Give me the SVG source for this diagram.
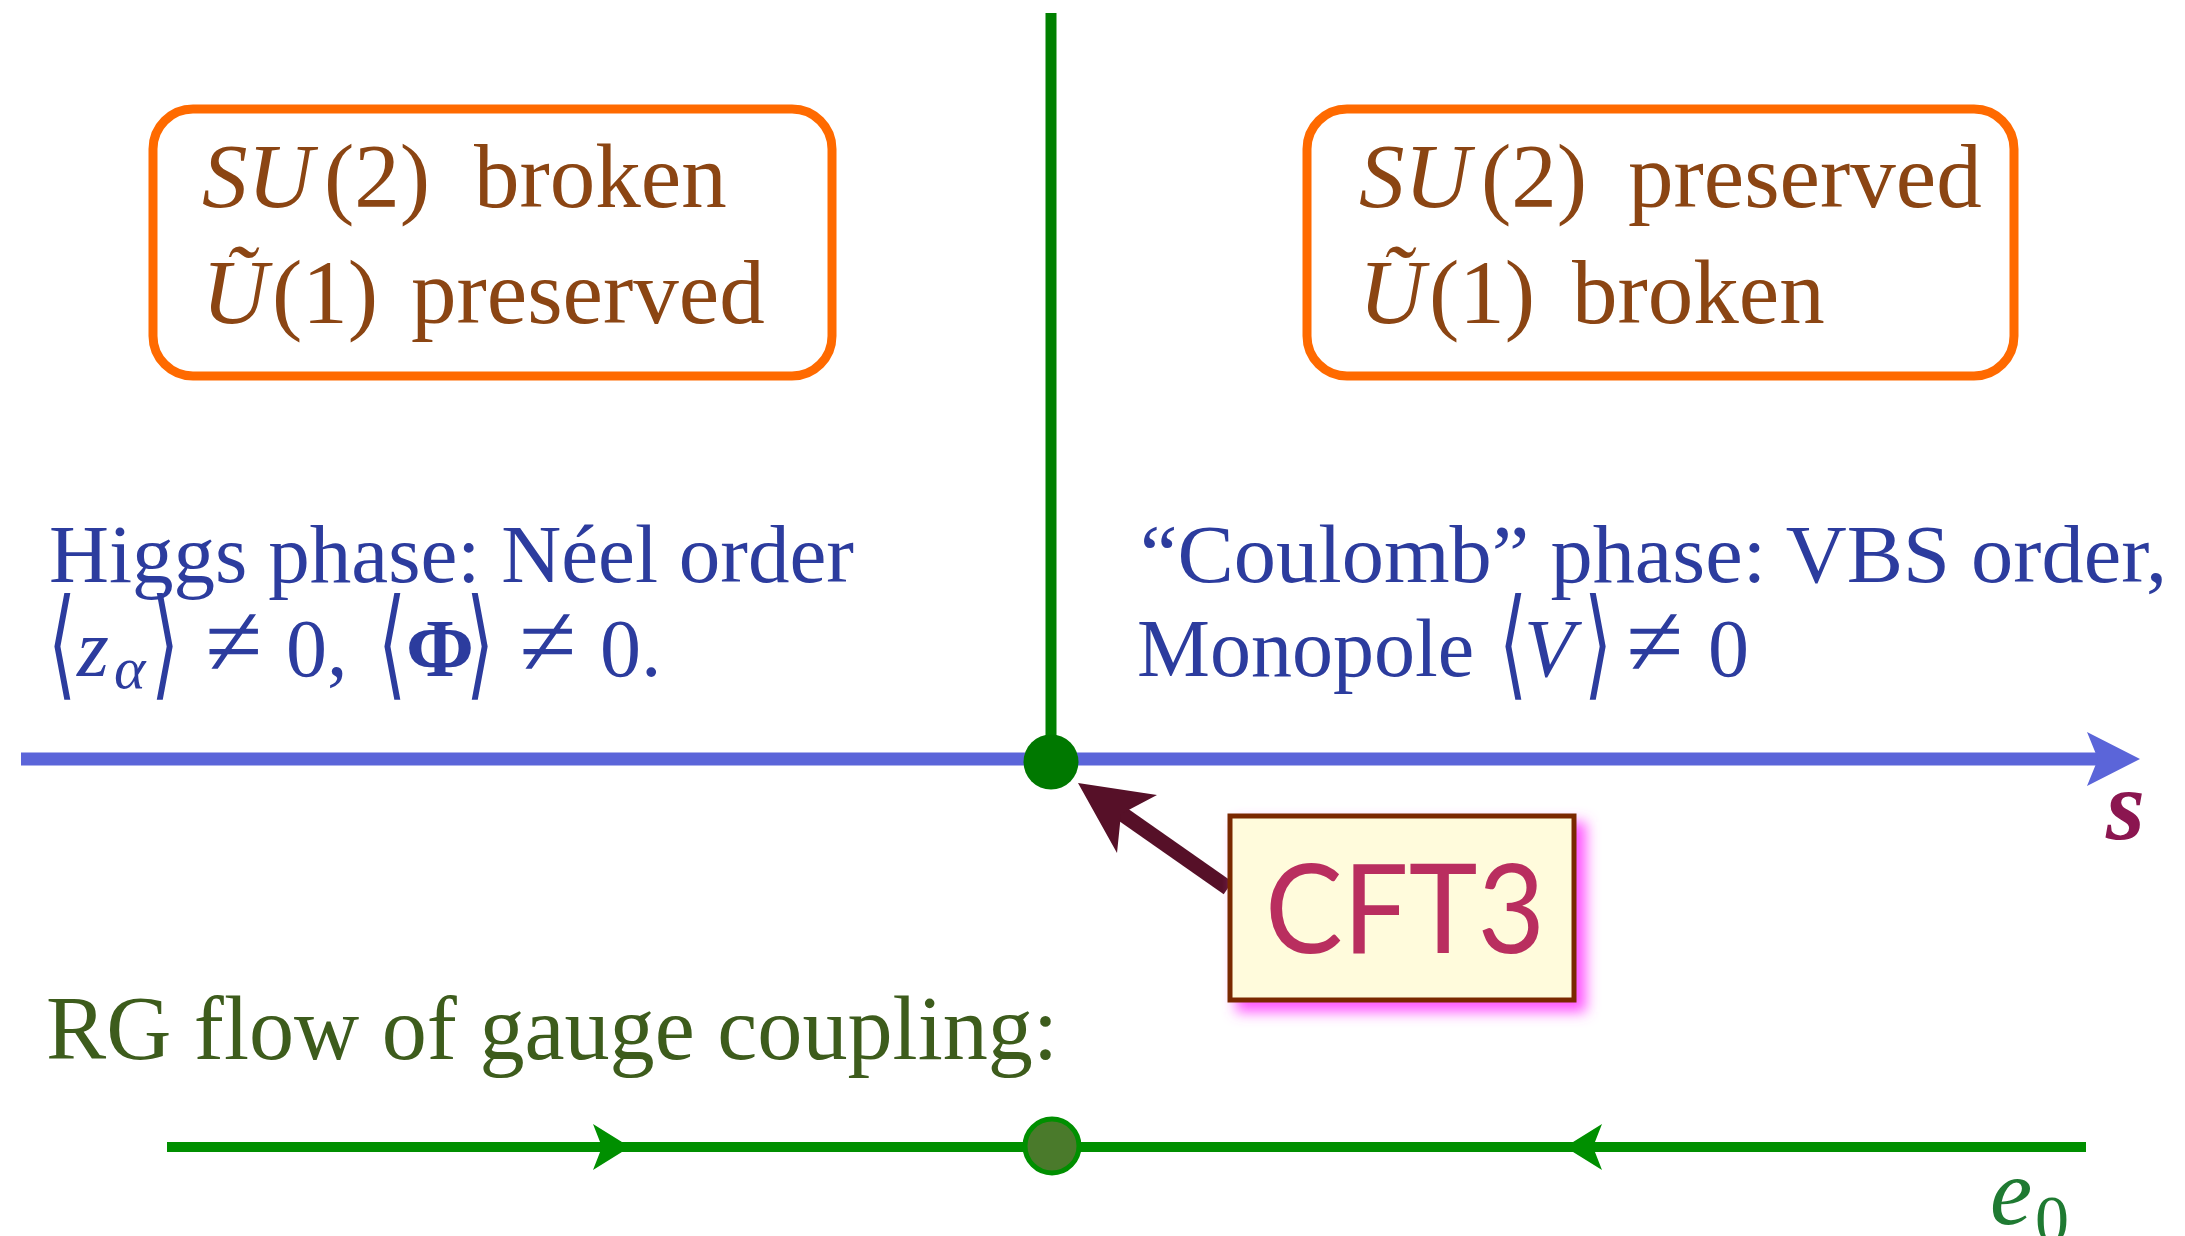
<svg xmlns="http://www.w3.org/2000/svg" width="2185" height="1236" viewBox="0 0 2185 1236">
<style>
.serif{font-family:"Liberation Serif","DejaVu Serif",serif}
.it{font-style:italic}
.box{fill:#ffffff;stroke:#ff6a00;stroke-width:9}
.boxtxt{fill:#8b4513;font-size:91px}
.blue{fill:#2c3c9e;font-size:82px}
.brk{font-family:"DejaVu Sans","DejaVu Serif",sans-serif;font-size:120px;fill:#2c3c9e}
.neq{font-size:104px}
</style>
<defs>
<filter id="glow" x="-20%" y="-20%" width="140%" height="140%">
<feGaussianBlur stdDeviation="7"/>
</filter>
</defs>
<rect width="2185" height="1236" fill="#ffffff"/>

<g id="connectors">
<line x1="1051" y1="13" x2="1051" y2="750" stroke="#008000" stroke-width="11"/>
<line x1="21" y1="759" x2="2098" y2="759" stroke="#5b65d9" stroke-width="13"/>
<polygon points="2140,759 2087,732 2098,759 2087,786" fill="#5b65d9"/>
<line x1="167" y1="1147" x2="2086" y2="1147" stroke="#008f00" stroke-width="10"/>
<polygon points="630,1147 593,1124 602,1147 593,1170" fill="#008f00"/>
<polygon points="1565,1147 1602,1124 1593,1147 1602,1170" fill="#008f00"/>
<line x1="1228" y1="888" x2="1118" y2="811" stroke="#561028" stroke-width="15"/>
<polygon points="1078,783 1157,795 1121,814 1117,853" fill="#561028"/>
</g>

<g id="box-left">
<rect class="box" x="153" y="109" width="679" height="267" rx="40"/>
<text class="serif boxtxt" y="207"><tspan class="it" x="202">SU</tspan><tspan x="324">(2)</tspan><tspan x="474">broken</tspan></text>
<text class="serif boxtxt" y="323"><tspan class="it" x="202">Ũ</tspan><tspan x="272">(1)</tspan><tspan x="411">preserved</tspan></text>
</g>

<g id="box-right">
<rect class="box" x="1307" y="109" width="707" height="267" rx="40"/>
<text class="serif boxtxt" y="207"><tspan class="it" x="1359">SU</tspan><tspan x="1481">(2)</tspan><tspan x="1628">preserved</tspan></text>
<text class="serif boxtxt" y="323"><tspan class="it" x="1359">Ũ</tspan><tspan x="1429">(1)</tspan><tspan x="1572">broken</tspan></text>
</g>

<g id="higgs-phase">
<text class="serif blue" x="49" y="582" textLength="805" lengthAdjust="spacingAndGlyphs">Higgs phase: Néel order</text>
<text class="brk" transform="translate(48,684) scale(0.6,1)">⟨</text>
<text class="serif blue" y="676"><tspan class="it" x="77">z</tspan><tspan class="it" x="114" y="688" font-size="60">α</tspan></text>
<text class="brk" transform="translate(151,684) scale(0.6,1)">⟩</text>
<text class="serif blue" y="676"><tspan class="neq" x="205">≠</tspan><tspan x="286">0,</tspan></text>
<text class="brk" transform="translate(378,684) scale(0.6,1)">⟨</text>
<text class="serif blue" x="406" y="676" font-weight="bold">Φ</text>
<text class="brk" transform="translate(466,684) scale(0.6,1)">⟩</text>
<text class="serif blue" y="676"><tspan class="neq" x="519">≠</tspan><tspan x="600">0.</tspan></text>
</g>

<g id="coulomb-phase">
<text class="serif blue" x="1140" y="582" textLength="1027" lengthAdjust="spacingAndGlyphs">“Coulomb” phase: VBS order,</text>
<text class="serif blue" x="1137" y="676">Monopole</text>
<text class="brk" transform="translate(1499,684) scale(0.6,1)">⟨</text>
<text class="serif blue it" x="1524" y="676">V</text>
<text class="brk" transform="translate(1584,684) scale(0.6,1)">⟩</text>
<text class="serif blue" y="676"><tspan class="neq" x="1626">≠</tspan><tspan x="1708">0</tspan></text>
</g>

<g id="critical-point">
<circle cx="1051" cy="762" r="27.5" fill="#007800"/>
</g>

<g id="cft3">
<rect x="1236" y="822" width="350" height="190" fill="#ff55ff" filter="url(#glow)"/>
<rect x="1230" y="816" width="344" height="184" fill="#fffbdc" stroke="#7a2800" stroke-width="5"/>
<text x="1265" y="953" font-family="Lato,'Open Sans','Liberation Sans',sans-serif" font-size="125" fill="#b92e5f" textLength="280" lengthAdjust="spacingAndGlyphs">CFT3</text>
</g>

<g id="s-label">
<text class="serif" x="2106" y="839" font-size="100" font-style="italic" font-weight="bold" fill="#8b1650">s</text>
</g>

<g id="rg-label">
<text class="serif" x="46" y="1059" font-size="92" fill="#3d5c1c" textLength="1012" lengthAdjust="spacingAndGlyphs">RG flow of gauge coupling:</text>
</g>

<g id="fixed-point">
<circle cx="1052" cy="1146" r="27" fill="#4a7a2b" stroke="#008f00" stroke-width="5"/>
</g>

<g id="e0-label">
<text class="serif" y="1224" font-size="95" fill="#1f7a32"><tspan class="it" x="1990">e</tspan><tspan x="2035" y="1242" font-size="68">0</tspan></text>
</g>
</svg>
